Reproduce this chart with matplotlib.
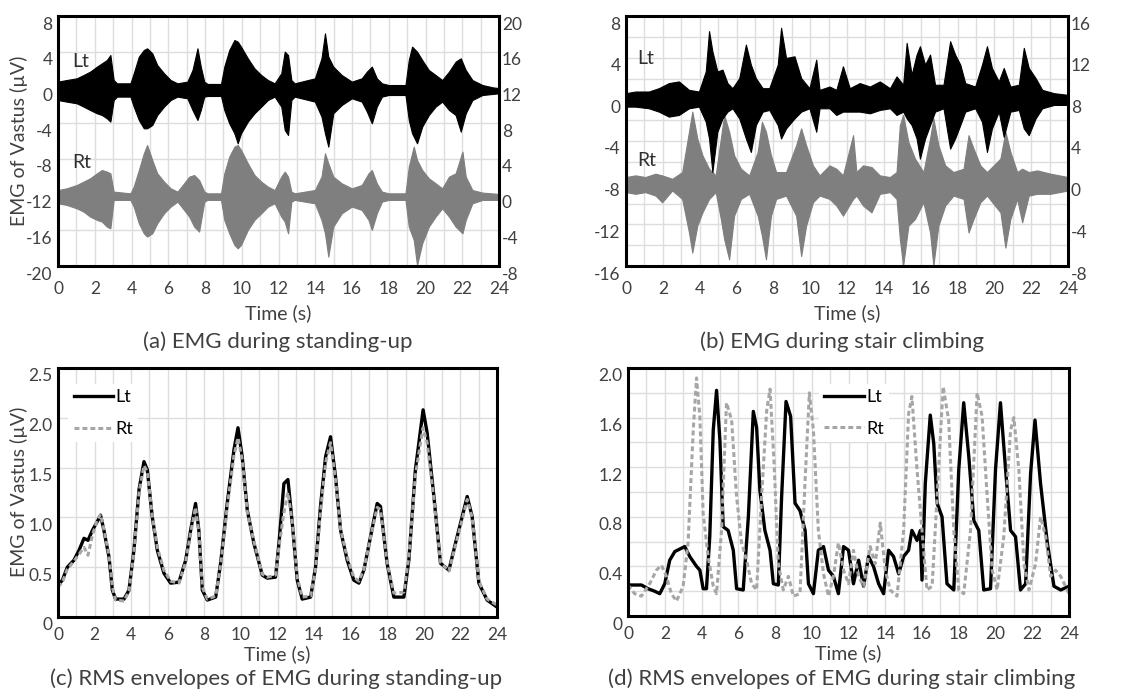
import numpy as np
import matplotlib.pyplot as plt
from matplotlib.ticker import MultipleLocator, FuncFormatter
from matplotlib.transforms import ScaledTranslation

plt.rcParams['font.family'] = ['Lato', 'DejaVu Sans']
plt.rcParams['axes.unicode_minus'] = False

#%% Data
# (a) raw EMG, standing-up -- upper / lower edge of the signal band
t_a_lt = [0, 0.47, 1.02, 1.39, 1.75, 2.12, 2.39, 2.66, 2.85, 3.03, 3.21, 3.94, 4.12, 4.40, 4.67,
          4.85, 5.13, 5.40, 5.77, 6.13, 6.50, 7.04, 7.32, 7.59, 7.77, 7.96, 8.14, 8.87, 9.05, 9.32,
          9.60, 9.78, 9.96, 10.33, 10.69, 11.06, 11.42, 11.79, 12.15, 12.34, 12.52, 12.70, 12.88, 13.98, 14.34,
          14.53, 14.71, 14.98, 15.44, 15.99, 16.53, 16.81, 17.08, 17.35, 17.63, 17.99, 18.91, 19.09, 19.27, 19.54,
          19.82, 20.18, 20.55, 20.91, 21.28, 21.64, 21.92, 22.19, 22.55, 23.10, 23.65, 24.0]
lt_a_up = [0.65, 0.83, 1.02, 1.39, 1.77, 2.33, 2.70, 3.07, 3.63, 0.83, 0.46, 0.46, 1.58, 3.45, 4.19,
           4.38, 3.82, 2.51, 1.58, 0.83, 0.46, 0.65, 1.95, 4.38, 2.33, 0.65, 0.39, 0.39, 2.33, 4.19,
           5.31, 5.13, 4.57, 3.26, 2.14, 1.39, 0.83, 0.46, 1.58, 4.01, 3.63, 0.83, 0.46, 1.02, 3.26,
           6.06, 3.45, 2.33, 1.39, 0.65, 1.02, 1.77, 2.33, 1.02, 0.46, 0.27, 0.27, 3.07, 4.57, 4.01,
           3.07, 1.95, 1.39, 0.83, 1.77, 2.89, 3.26, 1.95, 0.83, 0.27, 0.01, -0.10]
lt_a_lo = [-1.41, -1.59, -1.78, -2.15, -2.53, -2.90, -3.09, -3.46, -3.83, -1.41, -1.03, -1.03, -2.15, -3.65, -4.58,
           -4.58, -4.21, -3.09, -2.15, -1.41, -1.03, -1.22, -2.53, -3.65, -2.53, -1.03, -0.96, -0.96, -2.53, -4.02,
           -5.14, -6.26, -5.14, -3.83, -2.90, -2.15, -1.41, -1.03, -2.15, -4.77, -5.33, -1.41, -1.03, -1.59, -3.27,
           -5.14, -6.63, -2.90, -1.97, -1.22, -1.59, -2.71, -4.02, -2.15, -1.03, -0.85, -0.85, -3.65, -5.14, -6.26,
           -4.39, -3.09, -2.15, -1.59, -2.53, -3.09, -4.95, -2.90, -1.41, -0.85, -0.73, -0.66]
# Rt is on the secondary axis (right scale)
t_a_rt = [0, 0.47, 1.02, 1.39, 1.75, 2.12, 2.39, 2.66, 2.85, 3.03, 3.94, 4.12, 4.40, 4.67, 4.85,
          5.13, 5.40, 5.77, 6.13, 6.50, 6.86, 7.14, 7.41, 7.68, 7.96, 8.14, 8.87, 9.05, 9.32, 9.60,
          9.78, 9.96, 10.33, 10.69, 11.06, 11.42, 11.79, 12.15, 12.34, 12.52, 12.70, 12.88, 13.98, 14.34, 14.53,
          14.71, 14.98, 15.44, 15.99, 16.53, 16.90, 17.08, 17.35, 17.63, 17.99, 18.91, 19.09, 19.36, 19.54, 19.82,
          20.18, 20.55, 20.91, 21.28, 21.64, 22.01, 22.19, 22.55, 23.10, 24.0]
rt_a_up = [0.51, 0.70, 1.07, 1.45, 1.82, 2.38, 2.75, 2.57, 2.38, 0.33, 0.14, 0.89, 2.75, 4.62, 5.55,
           3.87, 2.38, 1.45, 0.70, 0.33, 1.26, 2.01, 2.19, 1.63, 0.33, 0.14, 0.14, 2.38, 4.25, 5.37,
           5.55, 5.00, 3.50, 2.19, 1.45, 0.89, 0.51, 2.01, 2.57, 2.01, 0.33, 0.14, 0.51, 2.01, 4.62,
           3.50, 2.01, 1.26, 0.70, 1.07, 2.38, 2.75, 1.26, 0.33, 0.14, 0.14, 3.13, 5.37, 3.87, 2.75,
           1.82, 1.26, 0.70, 2.01, 2.38, 4.81, 2.01, 0.51, 0.22, 0.07]
rt_a_lo = [-0.98, -1.16, -1.54, -1.91, -2.47, -2.84, -3.03, -3.59, -3.78, -0.60, -0.60, -1.35, -3.22, -4.34, -4.71,
           -4.34, -3.22, -2.10, -1.35, -0.79, -1.72, -2.47, -3.59, -4.15, -0.79, -0.60, -0.60, -2.84, -4.34, -5.64,
           -6.02, -5.64, -3.96, -2.84, -2.10, -1.35, -0.98, -2.47, -3.03, -4.34, -0.79, -0.60, -0.98, -2.84, -4.34,
           -6.95, -3.59, -2.10, -1.35, -1.72, -2.84, -3.96, -2.10, -0.79, -0.60, -0.60, -3.59, -5.08, -7.90, -5.46,
           -3.59, -2.47, -1.54, -2.47, -3.59, -4.34, -2.84, -0.98, -0.60, -0.60]

# (b) raw EMG, stair climbing
t_b_lt = [0, 0.51, 1.24, 1.78, 2.33, 2.87, 3.42, 3.96, 4.33, 4.51, 4.69, 4.96, 5.24, 5.51, 5.78,
          6.15, 6.51, 6.78, 7.05, 7.42, 7.78, 8.24, 8.42, 8.69, 9.15, 9.51, 9.96, 10.33, 10.51, 11.05,
          11.42, 11.78, 12.15, 12.69, 13.24, 13.78, 14.33, 14.69, 15.05, 15.24, 15.51, 15.78, 15.96, 16.24, 16.51,
          16.78, 17.24, 17.60, 17.87, 18.15, 18.42, 18.96, 19.33, 19.60, 19.87, 20.24, 20.51, 20.87, 21.33, 21.60,
          21.87, 22.24, 22.60, 23.24, 24.0]
lt_b_up = [0.59, 0.75, 0.75, 1.07, 1.56, 1.72, 0.91, 0.75, 2.68, 6.55, 4.62, 2.68, 2.85, 1.56, 1.07,
           2.04, 5.26, 3.33, 2.04, 1.07, 1.07, 3.33, 6.87, 3.97, 4.13, 2.04, 1.07, 3.81, 0.91, 1.23,
           0.91, 3.17, 1.07, 1.56, 1.23, 1.72, 1.07, 2.20, 1.40, 5.42, 2.36, 4.30, 5.10, 3.33, 4.30,
           1.40, 1.40, 5.58, 4.30, 3.33, 1.56, 1.23, 3.33, 5.10, 3.01, 1.72, 3.01, 1.23, 1.40, 4.94,
           3.01, 2.04, 0.91, 0.59, 0.43]
lt_b_lo = [-0.70, -0.70, -0.86, -1.18, -1.66, -1.50, -0.86, -0.70, -2.15, -3.76, -6.98, -3.11, -1.83, -1.18, -0.86,
           -1.83, -3.76, -5.05, -2.47, -1.18, -1.02, -2.47, -3.76, -2.79, -1.83, -1.18, -0.86, -3.11, -0.86, -0.86,
           -1.50, -1.18, -1.18, -1.18, -1.34, -1.02, -0.86, -1.50, -1.18, -1.83, -2.47, -3.76, -5.69, -3.76, -2.47,
           -1.18, -0.86, -4.73, -3.76, -2.47, -1.18, -0.86, -2.15, -5.05, -2.79, -1.18, -3.60, -1.18, -1.02, -2.79,
           -3.44, -1.83, -0.86, -0.54, -0.54]
t_b_rt = [0, 0.51, 1.05, 1.60, 1.96, 2.51, 3.05, 3.42, 3.60, 3.87, 4.15, 4.51, 4.87, 5.15, 5.33,
          5.60, 5.87, 6.24, 6.69, 7.15, 7.38, 7.60, 7.87, 8.15, 8.69, 9.24, 9.51, 9.78, 10.15, 10.51,
          11.05, 11.42, 11.78, 12.33, 12.51, 12.87, 13.33, 13.78, 14.33, 14.69, 14.87, 15.05, 15.33, 15.69, 16.15,
          16.51, 16.69, 16.96, 17.33, 17.78, 18.33, 18.60, 18.87, 19.24, 19.60, 20.33, 20.60, 20.87, 21.24, 21.51,
          21.87, 22.33, 23.05, 24.0]
rt_b_up = [0.54, 0.70, 0.54, 0.86, 0.70, 0.37, 1.02, 4.89, 6.82, 4.24, 2.63, 1.34, 0.70, 4.24, 6.50,
           4.89, 2.63, 1.34, 0.70, 2.95, 5.85, 4.89, 2.63, 1.02, 1.02, 3.60, 5.21, 3.60, 1.66, 0.70,
           1.66, 1.34, 0.70, 4.56, 1.02, 1.66, 1.50, 0.70, 0.54, 1.02, 5.53, 6.50, 3.92, 2.31, 1.02,
           4.24, 6.17, 3.60, 1.66, 1.02, 1.34, 4.56, 3.27, 1.66, 1.02, 2.31, 4.89, 2.95, 1.02, 1.34,
           1.02, 1.18, 0.86, 0.54]
rt_b_lo = [-0.91, -1.07, -0.91, -1.24, -1.88, -0.75, -1.56, -4.78, -6.71, -4.14, -2.85, -1.56, -0.91, -3.49, -5.42,
           -7.36, -3.17, -1.56, -1.07, -3.17, -5.10, -7.36, -3.17, -1.56, -1.24, -3.17, -7.04, -4.14, -1.88, -1.24,
           -1.56, -2.20, -3.17, -1.56, -1.24, -2.20, -2.85, -1.07, -0.91, -1.56, -5.42, -7.95, -4.14, -3.49, -1.88,
           -4.78, -7.95, -4.14, -2.20, -1.24, -1.56, -4.78, -3.49, -1.88, -1.24, -2.85, -6.23, -3.49, -1.56, -3.81,
           -1.24, -1.07, -1.07, -0.75]

# (c) RMS envelopes, standing-up
t_c = [0, 0.24, 0.51, 0.87, 1.15, 1.42, 1.64, 1.88, 2.15, 2.33, 2.51, 2.79, 2.97, 3.15, 3.61, 3.88,
       4.15, 4.43, 4.70, 4.88, 5.15, 5.43, 5.79, 6.16, 6.61, 6.98, 7.25, 7.52, 7.70, 7.89, 8.16, 8.62,
       8.89, 9.25, 9.62, 9.84, 10.07, 10.35, 10.71, 11.17, 11.44, 11.89, 12.08, 12.35, 12.57, 12.81, 13.08, 13.35,
       13.81, 14.08, 14.35, 14.63, 14.90, 15.17, 15.45, 15.81, 16.17, 16.45, 16.72, 17.09, 17.45, 17.63, 17.99, 18.36,
       18.91, 19.18, 19.54, 19.82, 19.96, 20.18, 20.55, 20.91, 21.37, 21.73, 22.10, 22.37, 22.64, 23.01, 23.46, 24.0]
lt_c = [0.32, 0.37, 0.50, 0.57, 0.67, 0.79, 0.77, 0.87, 0.96, 1.02, 0.87, 0.60, 0.27, 0.18, 0.18, 0.27,
        0.67, 1.28, 1.56, 1.48, 1.01, 0.67, 0.44, 0.34, 0.35, 0.57, 0.87, 1.14, 0.87, 0.27, 0.17, 0.20,
        0.54, 1.14, 1.68, 1.90, 1.61, 1.07, 0.74, 0.42, 0.39, 0.40, 0.74, 1.34, 1.38, 0.94, 0.37, 0.18,
        0.20, 0.50, 1.11, 1.61, 1.81, 1.41, 0.87, 0.57, 0.37, 0.34, 0.47, 0.81, 1.14, 1.11, 0.54, 0.20,
        0.20, 0.57, 1.48, 1.88, 2.08, 1.85, 1.21, 0.54, 0.47, 0.74, 1.01, 1.21, 1.01, 0.34, 0.17, 0.10]
rt_c = [0.30, 0.35, 0.48, 0.56, 0.63, 0.70, 0.62, 0.82, 0.98, 1.03, 0.88, 0.62, 0.30, 0.17, 0.16, 0.26,
        0.65, 1.25, 1.52, 1.46, 1.02, 0.70, 0.47, 0.36, 0.34, 0.55, 0.84, 1.10, 0.85, 0.30, 0.18, 0.21,
        0.52, 1.10, 1.62, 1.80, 1.58, 1.05, 0.76, 0.43, 0.40, 0.42, 0.70, 1.05, 1.25, 0.95, 0.40, 0.20,
        0.21, 0.48, 1.05, 1.55, 1.75, 1.38, 0.88, 0.60, 0.40, 0.36, 0.48, 0.80, 1.10, 1.08, 0.55, 0.24,
        0.25, 0.60, 1.42, 1.75, 1.90, 1.75, 1.18, 0.55, 0.46, 0.72, 0.98, 1.18, 1.00, 0.36, 0.18, 0.12]

# (d) RMS envelopes, stair climbing
t_d_lt = [0, 0.27, 0.73, 1.09, 1.45, 1.73, 2.0, 2.27, 2.55, 2.82, 3.09, 3.36, 3.73, 3.91, 4.09, 4.27,
          4.45, 4.64, 4.82, 5.0, 5.18, 5.45, 5.73, 5.91, 6.27, 6.55, 6.82, 7.0, 7.18, 7.45, 7.73, 7.91,
          8.18, 8.36, 8.6, 8.85, 9.09, 9.36, 9.64, 9.82, 10.09, 10.36, 10.64, 10.91, 11.18, 11.45, 11.73, 12.0,
          12.27, 12.55, 12.82, 13.09, 13.36, 13.64, 13.91, 14.18, 14.45, 14.73, 15.0, 15.27, 15.45, 15.73, 15.91, 16.0,
          16.18, 16.45, 16.64, 16.82, 17.09, 17.36, 17.73, 18.0, 18.27, 18.55, 18.82, 19.09, 19.36, 19.73, 20.0, 20.27,
          20.55, 20.82, 21.09, 21.36, 21.64, 21.91, 22.15, 22.45, 22.82, 23.18, 23.55, 24.0]
lt_d = [0.25, 0.25, 0.25, 0.22, 0.20, 0.18, 0.26, 0.45, 0.52, 0.54, 0.56, 0.48, 0.40, 0.37, 0.22, 0.22,
        0.64, 1.50, 1.82, 1.42, 0.72, 0.69, 0.53, 0.22, 0.21, 0.80, 1.65, 1.52, 1.01, 0.69, 0.53, 0.26,
        0.25, 0.96, 1.73, 1.61, 0.91, 0.85, 0.69, 0.26, 0.18, 0.53, 0.56, 0.37, 0.32, 0.18, 0.56, 0.53,
        0.26, 0.45, 0.24, 0.48, 0.40, 0.26, 0.18, 0.53, 0.48, 0.34, 0.48, 0.53, 0.69, 0.61, 0.69, 0.29,
        1.07, 1.62, 1.39, 0.91, 0.80, 0.26, 0.21, 1.18, 1.72, 1.28, 0.77, 0.69, 0.21, 0.22, 1.18, 1.72,
        1.18, 0.69, 0.64, 0.21, 0.26, 1.15, 1.58, 1.07, 0.59, 0.24, 0.21, 0.24]
t_d_rt = [0, 0.36, 0.73, 1.18, 1.55, 1.82, 2.09, 2.36, 2.64, 3.0, 3.27, 3.55, 3.73, 3.91, 4.09, 4.36,
          4.64, 4.82, 5.09, 5.36, 5.64, 5.91, 6.18, 6.45, 6.73, 7.0, 7.27, 7.55, 7.73, 7.95, 8.18, 8.45,
          8.73, 9.0, 9.36, 9.64, 9.87, 10.09, 10.36, 10.64, 10.91, 11.18, 11.45, 11.73, 12.0, 12.27, 12.55, 12.82,
          13.18, 13.45, 13.73, 14.0, 14.27, 14.64, 15.0, 15.27, 15.45, 15.73, 16.0, 16.27, 16.55, 16.82, 17.15, 17.45,
          17.73, 18.0, 18.27, 18.64, 19.0, 19.27, 19.55, 19.82, 20.09, 20.45, 20.82, 21.0, 21.27, 21.55, 21.82, 22.18,
          22.45, 22.73, 23.0, 23.27, 23.55, 24.0]
rt_d = [0.25, 0.18, 0.16, 0.26, 0.37, 0.41, 0.32, 0.18, 0.12, 0.24, 0.59, 1.50, 1.92, 1.61, 0.83, 0.48,
        0.24, 0.18, 0.69, 1.72, 1.58, 0.96, 0.59, 0.45, 0.26, 0.21, 0.96, 1.66, 1.83, 1.23, 0.42, 0.21,
        0.32, 0.16, 0.18, 1.10, 1.80, 1.50, 0.69, 0.34, 0.16, 0.32, 0.59, 0.37, 0.26, 0.53, 0.32, 0.24,
        0.56, 0.42, 0.75, 0.37, 0.21, 0.16, 0.69, 1.63, 1.77, 1.18, 0.69, 0.21, 0.24, 0.96, 1.85, 1.58,
        0.69, 0.21, 0.18, 0.69, 1.80, 1.61, 0.96, 0.37, 0.21, 0.64, 1.50, 1.60, 1.18, 0.42, 0.21, 0.42,
        0.80, 0.64, 0.32, 0.37, 0.32, 0.18]

#%% Styling helpers
TXT = '#404040'
GRID = '#dddddd'
LT_COL = 'black'
RT_COL = '#7f7f7f'
RT_DASH = '#a6a6a6'
TICK_FS = 12.5


def fmt_dec(v, pos):
    return '0' if abs(v) < 1e-9 else f'{v:.1f}'


def style(ax, ylo, yhi, ymaj, ymin=None, fmt=None, xpad=11, lpad=5):
    ax.set_xlim(0, 24)
    ax.set_ylim(ylo, yhi)
    ax.xaxis.set_major_locator(MultipleLocator(2))
    ax.xaxis.set_minor_locator(MultipleLocator(1))
    ax.yaxis.set_major_locator(MultipleLocator(ymaj))
    if ymin:
        ax.yaxis.set_minor_locator(MultipleLocator(ymin))
    if fmt:
        ax.yaxis.set_major_formatter(FuncFormatter(fmt))
    ax.grid(which='both', color=GRID, lw=1.0)
    ax.set_axisbelow(True)
    ax.tick_params(which='both', length=0, labelsize=TICK_FS, labelcolor=TXT)
    ax.tick_params(axis='y', pad=4)
    ax.tick_params(axis='x', pad=xpad)
    for s in ax.spines.values():
        s.set_linewidth(2.2)
        s.set_color('black')
    ax.set_xlabel('Time (s)', fontsize=14, color=TXT, labelpad=lpad)


def shift_labels(ax, fig, dy_px=-7):
    off = ScaledTranslation(0, dy_px / fig.dpi, fig.dpi_scale_trans)
    for lab in ax.get_yticklabels():
        lab.set_transform(lab.get_transform() + off)


fig = plt.figure(figsize=(11.47, 6.93), dpi=100)
W, H = 1147, 693


def add_ax(x0, x1, y0, y1):
    return fig.add_axes([x0 / W, 1 - y1 / H, (x1 - x0) / W, (y1 - y0) / H])


#%% (a)
ax_a = add_ax(58, 499, 16, 266)
style(ax_a, -20, 8, 4)
ax_a2 = ax_a.twinx()
ax_a2.set_ylim(-8, 20)
ax_a2.yaxis.set_major_locator(MultipleLocator(4))
ax_a2.tick_params(length=0, labelsize=TICK_FS, labelcolor=TXT, pad=2)
ax_a.fill_between(t_a_rt, rt_a_lo, rt_a_up, color=RT_COL, lw=0.8, transform=ax_a2.transData)
ax_a.fill_between(t_a_lt, lt_a_lo, lt_a_up, color=LT_COL, lw=0.8)
ax_a.text(0.75, 2.9, 'Lt', fontsize=14, color='#303030', va='center')
ax_a.text(0.75, -8.4, 'Rt', fontsize=14, color='#303030', va='center')

#%% (b)
ax_b = add_ax(626, 1068, 16, 266)
style(ax_b, -16, 8, 4, ymin=2)
ax_b2 = ax_b.twinx()
ax_b2.set_ylim(-8, 16)
ax_b2.yaxis.set_major_locator(MultipleLocator(4))
ax_b2.tick_params(length=0, labelsize=TICK_FS, labelcolor=TXT, pad=2)
ax_b.fill_between(t_b_rt, rt_b_lo, rt_b_up, color=RT_COL, lw=0.8, transform=ax_b2.transData)
ax_b.fill_between(t_b_lt, lt_b_lo, lt_b_up, color=LT_COL, lw=0.8)
ax_b.text(0.6, 3.9, 'Lt', fontsize=14, color='#303030', va='center')
ax_b.text(0.6, -5.9, 'Rt', fontsize=14, color='#303030', va='center')

#%% (c)
ax_c = add_ax(58, 497, 368, 617)
style(ax_c, 0, 2.5, 0.5, fmt=fmt_dec, xpad=7, lpad=2)
ax_c.plot(t_c, lt_c, color=LT_COL, lw=2.4, label='Lt')
ax_c.plot(t_c, rt_c, color=RT_DASH, lw=2.2, dashes=(1.6, 1.0), label='Rt')
ax_c.legend(loc='upper left', bbox_to_anchor=(0.015, 0.95), fontsize=13, frameon=True,
            facecolor='white', edgecolor='none', framealpha=1, fancybox=False,
            handlelength=2.2, handletextpad=0.1, labelspacing=0.85, borderpad=0.3, borderaxespad=0.2)

#%% (d)
ax_d = add_ax(628, 1069, 368, 616)
style(ax_d, 0, 2.0, 0.4, ymin=0.2, fmt=fmt_dec, xpad=7, lpad=2)
ax_d.plot(t_d_lt, lt_d, color=LT_COL, lw=2.4, label='Lt')
ax_d.plot(t_d_rt, rt_d, color=RT_DASH, lw=2.2, dashes=(1.6, 1.0), label='Rt')
ax_d.legend(loc='upper left', bbox_to_anchor=(0.425, 0.95), fontsize=13, frameon=True,
            facecolor='white', edgecolor='none', framealpha=1, fancybox=False,
            handlelength=2.2, handletextpad=0.1, labelspacing=0.85, borderpad=0.3, borderaxespad=0.2)

for a in (ax_a, ax_a2, ax_b, ax_b2, ax_c, ax_d):
    shift_labels(a, fig)

#%% labels and captions
fig.text(19 / W, 1 - 141 / H, 'EMG of Vastus (µV)', rotation=90, ha='center', va='center',
         fontsize=14, color=TXT)
fig.text(19 / W, 1 - 492 / H, 'EMG of Vastus (µV)', rotation=90, ha='center', va='center',
         fontsize=14, color=TXT)
fig.text(278 / W, 1 - 342 / H, '(a) EMG during standing-up', ha='center', va='center', fontsize=16, color=TXT)
fig.text(842 / W, 1 - 342 / H, '(b) EMG during stair climbing', ha='center', va='center', fontsize=16, color=TXT)
fig.text(276 / W, 1 - 679 / H, '(c) RMS envelopes of EMG during standing-up', ha='center', va='center',
         fontsize=16, color=TXT)
fig.text(842 / W, 1 - 679 / H, '(d) RMS envelopes of EMG during stair climbing', ha='center', va='center',
         fontsize=16, color=TXT)

fig.savefig('out.png', dpi=100)
